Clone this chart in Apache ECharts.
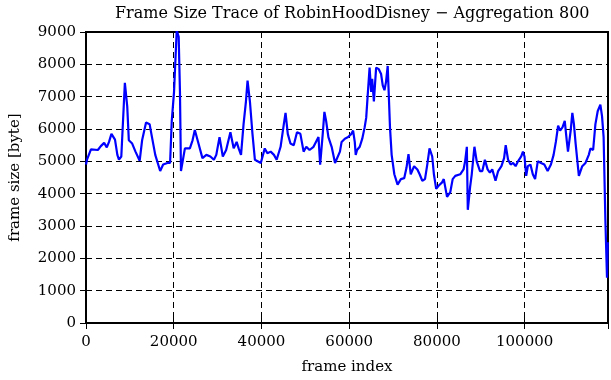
<!DOCTYPE html>
<html>
<head>
<meta charset="utf-8">
<script src="https://cdn.jsdelivr.net/npm/echarts@6/dist/echarts.min.js"></script>
<style>html,body{margin:0;padding:0;background:#fff;}#c{width:611px;height:380px;}</style>
</head>
<body>
<div id="c"></div>
<script>
const titleText = "Frame Size Trace of RobinHoodDisney \u2212 Aggregation 800";
const xName = "frame index";
const yName = "frame size [byte]";
const xTicks = [0, 20000, 40000, 60000, 80000, 100000];
const yTicks = [0, 1000, 2000, 3000, 4000, 5000, 6000, 7000, 8000, 9000];
const frameIndex = [0,225,1130,2700,3380,4130,4740,5250,5800,6610,7150,7510,8050,8860,9400,9760,10530,11280,12240,12790,13690,14500,15040,15790,16910,17590,18560,19170,19550,20070,20680,21130,21420,21650,22550,23680,24290,24810,25550,26540,27440,28350,29160,29700,30440,31190,31950,32920,33670,34340,34800,35340,35920,36460,36830,37370,37950,38500,39850,40750,41350,42100,42850,43460,44360,45100,45490,46000,46610,47360,48100,48870,49610,50220,50960,51870,52620,53000,53380,53970,54350,54740,55260,56000,56770,57890,58270,59010,59760,60500,60890,61270,61490,61790,62400,62980,63520,63880,64270,64650,65010,65240,65630,66140,66750,67270,67650,68040,68390,68780,69000,69300,69680,70290,71030,71780,72540,73060,73520,74030,74800,75540,76060,76670,77280,77800,78310,78930,79310,79830,80430,81180,81560,82310,83050,83590,84180,85310,86070,86430,86820,87040,87560,87940,88330,88550,89070,89820,90350,90940,91550,92070,92610,93360,93960,94710,95310,95680,96220,96810,97350,97940,98480,99220,99610,99970,100350,100730,101320,101860,102380,102990,103730,104480,105240,105990,106600,107110,107630,108080,108620,109140,109590,109880,110490,110870,111230,111620,112360,113130,113870,114620,115000,115610,116130,116650,117260,117640,118000,118400,118770,118950];
const frameSize = [4900,5050,5370,5350,5470,5570,5430,5600,5850,5670,5200,5050,5150,7430,6700,5650,5550,5300,5020,5650,6200,6150,5750,5200,4700,4900,4950,4950,6250,7150,9050,8850,7150,4700,5400,5400,5650,5970,5600,5100,5200,5150,5050,5200,5750,5150,5350,5900,5400,5600,5400,5200,6150,6850,7500,6850,5850,5050,4950,5400,5250,5300,5200,5050,5450,6150,6500,5850,5550,5500,5900,5850,5300,5450,5350,5450,5650,5750,4900,5850,6530,6250,5750,5450,4950,5300,5600,5700,5750,5850,5950,5600,5200,5350,5450,5700,6050,6350,7150,7900,7150,7550,6850,7900,7850,7700,7350,7200,7450,7950,7150,6050,5200,4600,4280,4450,4480,4800,5220,4600,4850,4750,4600,4400,4450,4900,5400,5150,4600,4150,4250,4350,4450,3900,4050,4450,4550,4600,4750,5000,5450,3500,4200,4600,5150,5450,5000,4700,4700,5050,4750,4650,4750,4400,4700,4850,5100,5500,5050,4900,4950,4850,5000,5150,5300,5150,4550,4850,4900,4600,4450,5000,4950,4900,4700,4900,5200,5600,6100,5950,6050,6250,5650,5300,5950,6500,6150,5550,4550,4850,4950,5200,5400,5350,6150,6550,6750,6400,5750,3200,1400,2500];

const font = "DejaVu Serif";
const seriesData = frameIndex.map((f, i) => [f, frameSize[i]]);
const chart = echarts.init(document.getElementById('c'), null, {renderer: 'canvas'});
const gridDash = {show: true, lineStyle: {color: '#000', width: 1, type: [6, 4]}};
const xMax = 119000;
chart.setOption({
  animation: false,
  backgroundColor: '#fff',
  title: {text: titleText, left: 110, top: 1,
    textStyle: {fontFamily: font, fontSize: 16, fontWeight: 'normal', color: '#000'}},
  grid: {left: 80, right: 3, top: 32, bottom: 50, show: true, borderColor: '#000', borderWidth: 2},
  xAxis: [{
    type: 'value', min: 0, max: xMax, interval: 20000,
    name: xName, nameLocation: 'middle', nameGap: 37,
    nameTextStyle: {fontFamily: font, fontSize: 15, color: '#000'},
    axisLine: {lineStyle: {color: '#000', width: 2}},
    axisTick: {inside: true, length: 6, lineStyle: {color: '#000', width: 1}},
    axisLabel: {fontFamily: font, fontSize: 15, color: '#000', margin: 12, showMaxLabel: false,
      formatter: v => xTicks.indexOf(v) >= 0 ? String(v) : ''},
    splitLine: gridDash
  }, {
    type: 'value', min: 0, max: xMax, interval: 20000, position: 'top',
    axisLine: {lineStyle: {color: '#000', width: 2}},
    axisTick: {inside: true, length: 6, lineStyle: {color: '#000', width: 1}},
    axisLabel: {show: false}, splitLine: {show: false}
  }],
  yAxis: [{
    type: 'value', min: 0, max: 9000, interval: 1000,
    name: yName, nameLocation: 'middle', nameGap: 63, nameRotate: 90,
    nameTextStyle: {fontFamily: font, fontSize: 15, color: '#000'},
    axisLine: {show: true, lineStyle: {color: '#000', width: 2}},
    axisTick: {show: true, inside: true, length: 6, lineStyle: {color: '#000', width: 1}},
    axisLabel: {fontFamily: font, fontSize: 15, color: '#000', margin: 10,
      formatter: v => yTicks.indexOf(v) >= 0 ? String(v) : ''},
    splitLine: gridDash
  }, {
    type: 'value', min: 0, max: 9000, interval: 1000, position: 'right',
    axisLine: {show: true, lineStyle: {color: '#000', width: 2}},
    axisTick: {show: true, inside: true, length: 6, lineStyle: {color: '#000', width: 1}},
    axisLabel: {show: false}, splitLine: {show: false}
  }],
  series: [{
    type: 'line', data: seriesData, xAxisIndex: 0, yAxisIndex: 0,
    showSymbol: false, symbol: 'none', clip: true,
    lineStyle: {color: '#0000ff', width: 2.2}
  }]
});
</script>
</body>
</html>
